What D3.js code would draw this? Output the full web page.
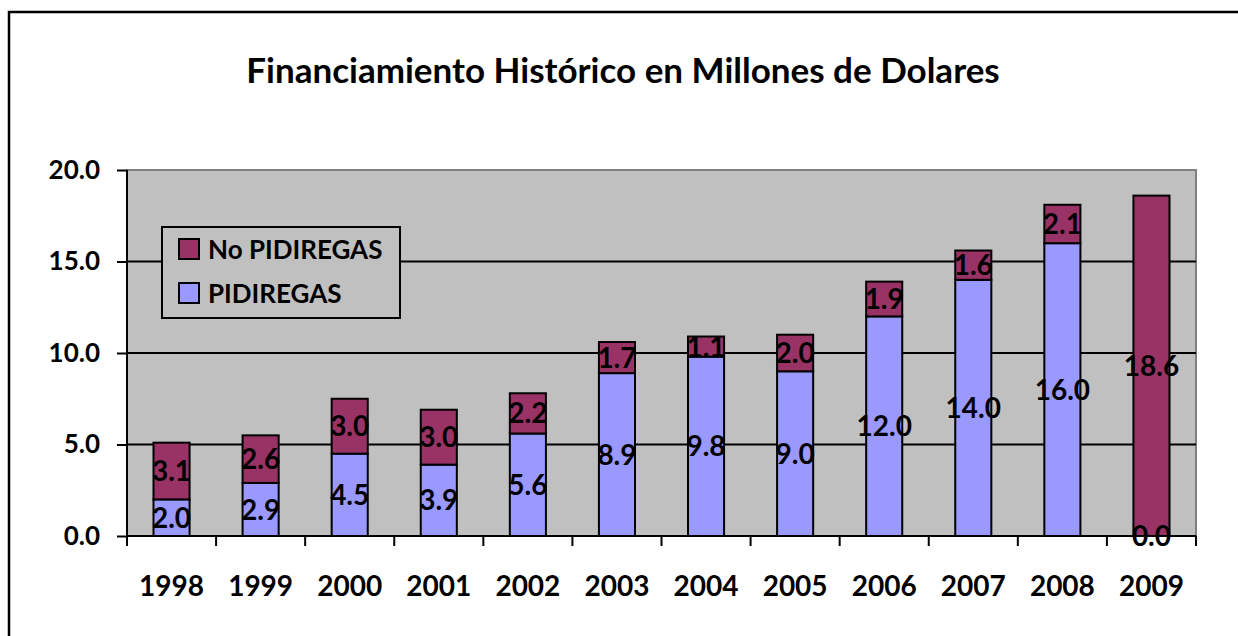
<!DOCTYPE html>
<html>
    <head>
        <script src="https://d3js.org/d3.v7.js"></script>
        <style>
            body{
                margin: 0;
                background: #fff;
            }
            text{
                font-family: Lato, "Open Sans", sans-serif;
                font-weight: bold;
                fill: #000;
            }
        </style>
    </head>
    <body>
        <div class="graph">
            <script>
                const years = ['1998','1999','2000','2001','2002','2003','2004','2005','2006','2007','2008','2009']
                const pidiregas = [2.0, 2.9, 4.5, 3.9, 5.6, 8.9, 9.8, 9.0, 12.0, 14.0, 16.0, 0.0]
                const noPidiregas = [3.1, 2.6, 3.0, 3.0, 2.2, 1.7, 1.1, 2.0, 1.9, 1.6, 2.1, 18.6]
                const seriesNames = ['PIDIREGAS', 'No PIDIREGAS']
                const yTicks = [0, 5, 10, 15, 20]

                const w = 1238
                const h = 636
                const plotL = 127, plotR = 1196, plotT = 170, plotB = 536

                const colours = {'PIDIREGAS': '#9999ff', 'No PIDIREGAS': '#993366'}

                const svg = d3.select('.graph')
                        .append('svg')
                        .attr('width', w)
                        .attr('height', h)

                // outer frame
                svg.append('rect')
                    .attr('x', 9).attr('y', 12)
                    .attr('width', 1260).attr('height', 660)
                    .attr('fill', 'none')
                    .attr('stroke', '#000')
                    .attr('stroke-width', 2.5)

                svg.append('text')
                    .attr('x', 623)
                    .attr('y', 83)
                    .attr('text-anchor', 'middle')
                    .style('font-size', '35px')
                    .text('Financiamiento Histórico en Millones de Dolares')

                const x = d3.scaleBand()
                            .domain(years)
                            .range([plotL, plotR])
                const y = d3.scaleLinear()
                            .domain([0, 20])
                            .range([plotB, plotT])

                const barW = x.bandwidth() * 0.405

                // plot area
                svg.append('rect')
                    .attr('x', plotL).attr('y', plotT)
                    .attr('width', plotR - plotL).attr('height', plotB - plotT)
                    .attr('fill', '#c0c0c0')
                    .attr('stroke', '#808080')
                    .attr('stroke-width', 2)

                svg.append('g')
                    .selectAll('line')
                    .data(yTicks.filter(d => d > 0 && d < 20))
                    .enter()
                    .append('line')
                    .attr('x1', plotL).attr('x2', plotR)
                    .attr('y1', d => y(d)).attr('y2', d => y(d))
                    .attr('stroke', '#000')
                    .attr('stroke-width', 2)

                const table = years.map((yr, i) => ({year: yr, 'PIDIREGAS': pidiregas[i], 'No PIDIREGAS': noPidiregas[i]}))
                const stacked = d3.stack().keys(seriesNames)(table)

                svg.append('g')
                    .selectAll('g')
                    .data(stacked)
                    .enter()
                    .append('g')
                    .attr('fill', d => colours[d.key])
                    .selectAll('rect')
                    .data(d => d.filter(s => s[1] - s[0] > 0))
                    .enter()
                    .append('rect')
                    .attr('x', d => x(d.data.year) + x.bandwidth() / 2 - barW / 2)
                    .attr('width', barW)
                    .attr('y', d => y(d[1]))
                    .attr('height', d => y(d[0]) - y(d[1]))
                    .attr('stroke', '#000')
                    .attr('stroke-width', 2)

                // y axis
                const yAxis = svg.append('g')
                    .attr('transform', `translate(${plotL},0)`)
                    .call(d3.axisLeft(y).tickValues(yTicks).tickFormat(d3.format('.1f')).tickSize(10).tickPadding(17))
                yAxis.selectAll('line, path').attr('stroke', '#000').attr('stroke-width', 2)
                yAxis.select('.domain').attr('d', `M0,${plotT}V${plotB}`)
                yAxis.selectAll('text').style('font-size', '26px').attr('font-family', null)

                // x axis
                const xAxis = svg.append('g')
                    .attr('transform', `translate(0,${plotB})`)
                    .call(d3.axisBottom(x).tickSize(0).tickPadding(40))
                xAxis.select('.domain').attr('stroke', '#000').attr('stroke-width', 2).attr('d', `M${plotL},0H${plotR}`)
                xAxis.selectAll('text').style('font-size', '28px').attr('font-family', null)
                xAxis.selectAll('.boundary')
                    .data(years.map(d => x(d)).concat([plotR]))
                    .enter()
                    .append('line')
                    .attr('x1', d => d).attr('x2', d => d)
                    .attr('y1', 0).attr('y2', 10)
                    .attr('stroke', '#000')
                    .attr('stroke-width', 2)

                // data labels
                svg.append('g')
                    .selectAll('g')
                    .data(stacked)
                    .enter()
                    .append('g')
                    .selectAll('text')
                    .data(d => d)
                    .enter()
                    .append('text')
                    .attr('x', d => x(d.data.year) + x.bandwidth() / 2)
                    .attr('y', d => y((d[0] + d[1]) / 2))
                    .attr('dy', '0.36em')
                    .attr('text-anchor', 'middle')
                    .style('font-size', '28px')
                    .text(d => d3.format('.1f')(d[1] - d[0]))

                // legend
                const legend = svg.append('g')
                legend.append('rect')
                    .attr('x', 162).attr('y', 227)
                    .attr('width', 238).attr('height', 91)
                    .attr('fill', '#c0c0c0')
                    .attr('stroke', '#000')
                    .attr('stroke-width', 2)
                const items = legend.selectAll('g')
                    .data(seriesNames.slice().reverse())
                    .enter()
                    .append('g')
                    .attr('transform', (d, i) => `translate(179,${239 + i * 44})`)
                items.append('rect')
                    .attr('width', 20).attr('height', 20)
                    .attr('fill', d => colours[d])
                    .attr('stroke', '#000')
                    .attr('stroke-width', 2)
                items.append('text')
                    .attr('x', 29).attr('y', 20)
                    .style('font-size', '26px')
                    .text(d => d)
            </script>
        </div>
    </body>
</html>
